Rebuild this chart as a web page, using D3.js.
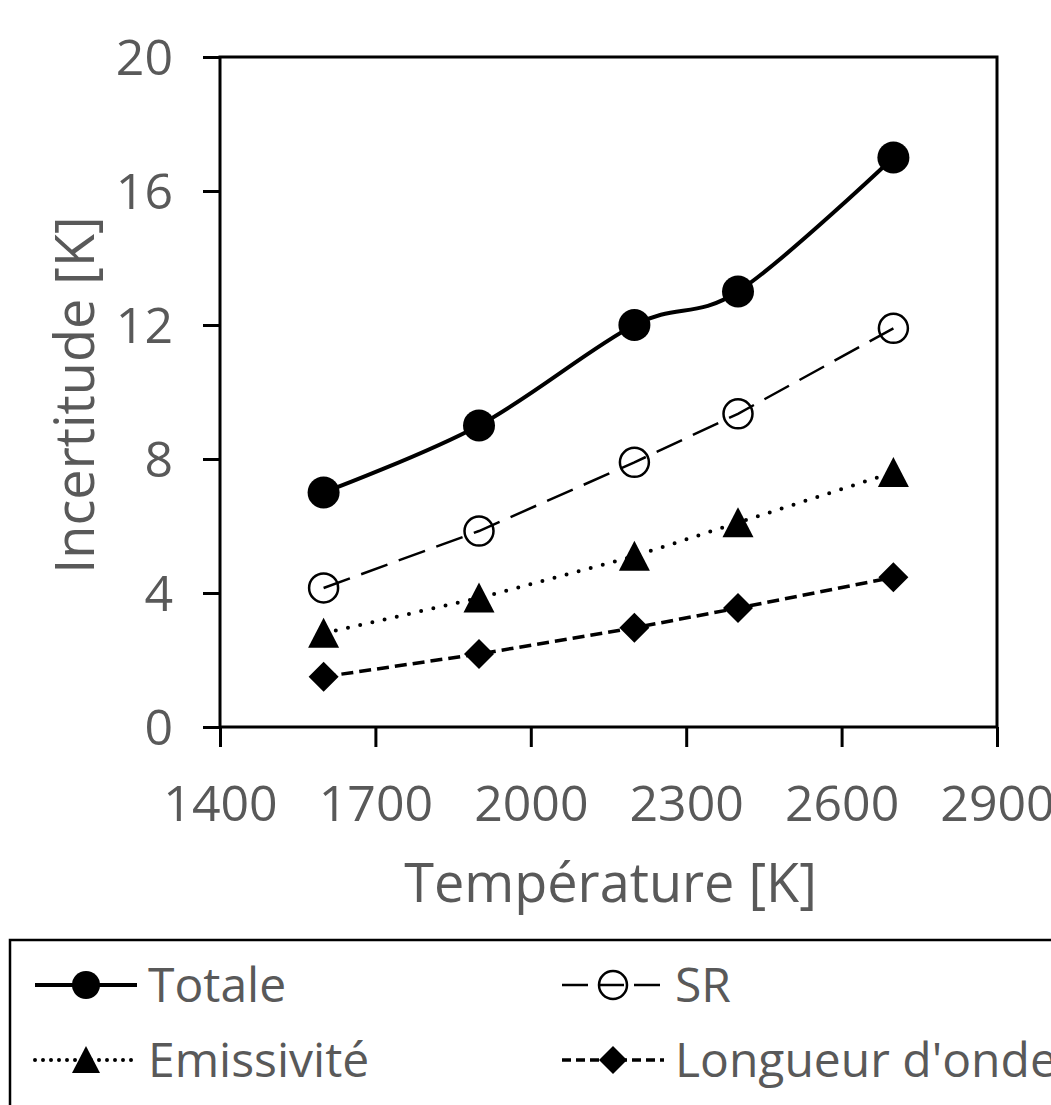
<!DOCTYPE html>
<html>
<head>
<meta charset="utf-8">
<script src="https://cdn.jsdelivr.net/npm/d3@7"></script>
<style>
  body { margin: 0; background: #fff; }
  text { font-family: "Open Sans", sans-serif; fill: #595959; }
</style>
</head>
<body>
<div id="chart"></div>
<script>
    // Data
    const temps = [1600, 1900, 2200, 2400, 2700]
    const totale = [7.0, 9.0, 12.0, 13.0, 17.0]
    const sr = [4.15, 5.85, 7.9, 9.35, 11.9]
    const emissivite = [2.8, 3.85, 5.1, 6.1, 7.6]
    const longueur = [1.5, 2.18, 2.96, 3.55, 4.47]
    const xTicks = [1400, 1700, 2000, 2300, 2600, 2900]
    const yTicks = [0, 4, 8, 12, 16, 20]

    const W = 1051, H = 1105
    const plotL = 220, plotR = 997, plotT = 57, plotB = 727

    const svg = d3.select('#chart').append('svg')
        .attr('width', W)
        .attr('height', H)

    const x = d3.scaleLinear().domain([1400, 2900]).range([plotL, plotR])
    const y = d3.scaleLinear().domain([0, 20]).range([plotB, plotT])

    // frame
    svg.append('rect')
        .attr('x', plotL).attr('y', plotT)
        .attr('width', plotR - plotL).attr('height', plotB - plotT)
        .attr('fill', 'none').attr('stroke', '#000').attr('stroke-width', 3)

    // axes
    const xAxis = svg.append('g')
        .attr('transform', 'translate(0,' + plotB + ')')
        .call(d3.axisBottom(x).tickValues(xTicks).tickSize(20).tickPadding(38).tickFormat(d3.format('d')))
    const yAxis = svg.append('g')
        .attr('transform', 'translate(' + plotL + ',0)')
        .call(d3.axisLeft(y).tickValues(yTicks).tickSize(17).tickPadding(30))

    ;[xAxis, yAxis].forEach(function(a) {
        a.select('.domain').remove()
        a.selectAll('line').attr('stroke', '#000').attr('stroke-width', 3)
        a.selectAll('text').attr('font-size', 50).attr('fill', '#595959')
            .style('font-family', '"Open Sans", sans-serif')
    })
    yAxis.selectAll('text').attr('dy', '0.35em')

    // axis titles
    svg.append('text')
        .attr('x', (plotL + plotR) / 2 + 2).attr('y', 902)
        .attr('text-anchor', 'middle').attr('font-size', 54)
        .text('Température [K]')
    svg.append('text')
        .attr('transform', 'translate(94,' + ((plotT + plotB) / 2 + 3) + ') rotate(-90)')
        .attr('text-anchor', 'middle').attr('font-size', 54)
        .text('Incertitude [K]')

    // series
    const series = [
        { name: 'Totale', vals: totale, dash: null, width: 4, curve: d3.curveCatmullRom.alpha(0), marker: 'circle', fill: '#000', size: 16 },
        { name: 'SR', vals: sr, dash: '28 12', width: 2.5, curve: d3.curveLinear, marker: 'circle', fill: 'none', size: 14.5 },
        { name: 'Emissivité', vals: emissivite, dash: '0 12.5', width: 4, curve: d3.curveLinear, marker: 'triangle', fill: '#000', size: 15.5 },
        { name: "Longueur d'onde", vals: longueur, dash: '12 6', width: 3.5, curve: d3.curveLinear, marker: 'diamond', fill: '#000', size: 15 }
    ]

    const drawMarker = function(sel, s, cx, cy) {
        if (s.marker === 'circle') {
            sel.append('circle')
                .attr('cx', cx).attr('cy', cy).attr('r', s.size)
                .attr('fill', s.fill).attr('stroke', '#000')
                .attr('stroke-width', s.fill === 'none' ? 2.5 : 0)
        } else if (s.marker === 'triangle') {
            const h = s.size
            sel.append('path')
                .attr('d', 'M' + cx + ',' + (cy - h) + 'L' + (cx + h) + ',' + (cy + h - 1) + 'L' + (cx - h) + ',' + (cy + h - 1) + 'Z')
                .attr('fill', '#000')
        } else {
            const h = s.size
            sel.append('path')
                .attr('d', 'M' + cx + ',' + (cy - h) + 'L' + (cx + h) + ',' + cy + 'L' + cx + ',' + (cy + h) + 'L' + (cx - h) + ',' + cy + 'Z')
                .attr('fill', '#000')
        }
    }

    series.forEach(function(s) {
        const pts = temps.map(function(t, i) { return [t, s.vals[i]] })
        const line = d3.line().x(function(d) { return x(d[0]) }).y(function(d) { return y(d[1]) }).curve(s.curve)
        svg.append('path')
            .attr('d', line(pts))
            .attr('fill', 'none').attr('stroke', '#000')
            .attr('stroke-width', s.width)
            .attr('stroke-dasharray', s.dash)
            .attr('stroke-linecap', s.marker === 'triangle' ? 'round' : 'butt')
        const g = svg.append('g')
        pts.forEach(function(p) { drawMarker(g, s, x(p[0]), y(p[1])) })
    })

    // legend
    const legend = svg.append('g')
    legend.append('rect')
        .attr('x', 10).attr('y', 940).attr('width', 1100).attr('height', 220)
        .attr('fill', '#fff').attr('stroke', '#000').attr('stroke-width', 2.5)

    const legPos = [[35, 985], [562, 985], [35, 1060], [562, 1060]]
    const legDash = [null, '26 10', '0 8', '9 5']
    series.forEach(function(s, i) {
        const lx = legPos[i][0], ly = legPos[i][1]
        const lg = legend.append('g')
        lg.append('line')
            .attr('x1', lx).attr('x2', lx + 102).attr('y1', ly).attr('y2', ly)
            .attr('stroke', '#000').attr('stroke-width', s.width)
            .attr('stroke-dasharray', legDash[i])
            .attr('stroke-linecap', s.marker === 'triangle' ? 'round' : 'butt')
        drawMarker(lg, Object.assign({}, s, { size: s.marker === 'circle' ? 14 : 14 }), lx + 51, ly)
        lg.append('text')
            .attr('x', lx + 113).attr('y', ly).attr('dy', '0.36em')
            .attr('font-size', 48)
            .text(s.name)
    })
</script>
</body>
</html>
